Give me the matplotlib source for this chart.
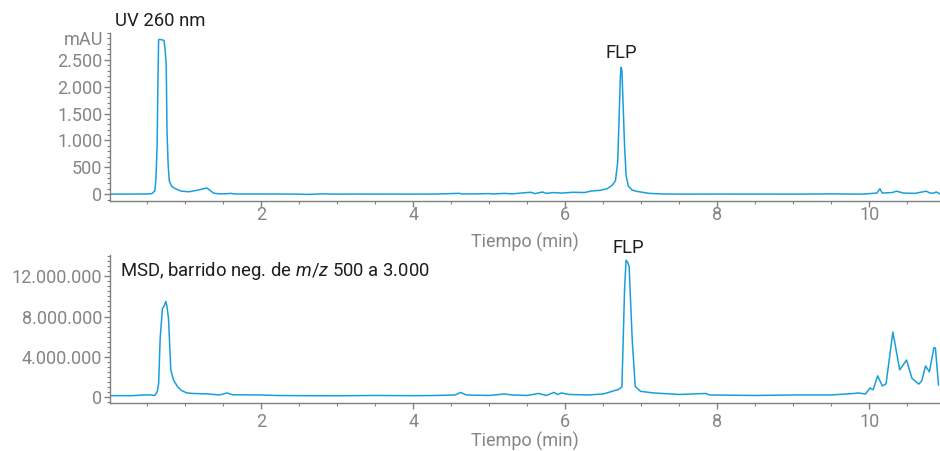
import matplotlib
matplotlib.use("Agg")
import matplotlib.pyplot as plt
from matplotlib.ticker import MultipleLocator, FuncFormatter

plt.rcParams['font.family'] = ['Roboto', 'DejaVu Sans']
plt.rcParams['mathtext.fontset'] = 'custom'
plt.rcParams['mathtext.rm'] = 'Roboto'
plt.rcParams['mathtext.it'] = 'Roboto:italic'

# UV 260 nm trace (time in min, absorbance in mAU)
uv_time = [0.0, 0.3, 0.5, 0.56, 0.6, 0.615, 0.63, 0.64, 0.65, 0.66, 0.7, 0.72, 0.735, 0.75, 0.76,
           0.775, 0.79, 0.82, 0.87, 0.95, 1.05, 1.15, 1.24, 1.28, 1.32, 1.37, 1.45, 1.55, 1.6, 1.65,
           2.0, 2.3, 2.5, 2.6, 2.8, 3.0, 3.2, 4.0, 4.3, 4.6, 4.65, 4.8, 5.0, 5.05, 5.2, 5.3, 5.45,
           5.55, 5.6, 5.7, 5.75, 5.85, 5.95, 6.1, 6.25, 6.35, 6.45, 6.55, 6.62, 6.66, 6.69, 6.71,
           6.725, 6.735, 6.745, 6.76, 6.78, 6.8, 6.83, 6.88, 6.95, 7.1, 7.3, 7.6, 8.0, 9.0, 9.5,
           9.9, 10.1, 10.14, 10.17, 10.3, 10.36, 10.45, 10.6, 10.75, 10.8, 10.85, 10.88, 10.93]
uv_mau = [0, 2, 3, 10, 60, 300, 900, 2000, 2870, 2880, 2870, 2860, 2700, 2400, 1200,
          550, 250, 150, 100, 55, 45, 70, 100, 115, 80, 20, 5, 8, 15, 3,
          3, 2, 0, -5, 5, 0, 2, 0, 2, 15, 3, 5, 10, 3, 15, 5, 25,
          35, 10, 40, 15, 30, 20, 35, 30, 60, 70, 100, 170, 250, 600, 1500,
          2200, 2360, 2300, 1700, 900, 350, 150, 75, 50, 15, 3, 0, 2, 0, 5,
          0, 20, 100, 20, 30, 55, 20, 15, 55, 20, 20, 40, 5]

# MSD negative scan trace (time in min, counts)
ms_time = [0.0, 0.3, 0.45, 0.55, 0.6, 0.63, 0.65, 0.67, 0.70, 0.72, 0.745, 0.76, 0.78, 0.81,
           0.845, 0.9, 0.95, 1.02, 1.1, 1.3, 1.45, 1.55, 1.62, 2.0, 2.2, 2.5, 3.0, 3.5, 4.0,
           4.3, 4.55, 4.62, 4.7, 5.0, 5.2, 5.3, 5.5, 5.65, 5.75, 5.85, 5.9, 5.95, 6.05, 6.3,
           6.5, 6.59, 6.7, 6.745, 6.78, 6.80, 6.82, 6.84, 6.88, 6.92, 6.99, 7.16, 7.5, 7.85,
           7.9, 8.5, 9.0, 9.5, 9.8, 9.85, 9.95, 10.01, 10.05, 10.11, 10.17, 10.22, 10.31,
           10.40, 10.49, 10.56, 10.65, 10.69, 10.74, 10.79, 10.85, 10.87, 10.91]
ms_counts = [0.13e6, 0.13e6, 0.2e6, 0.2e6, 0.15e6, 0.5e6, 1.3e6, 5.8e6, 8.8e6, 9.0e6, 9.5e6,
             9.0e6, 7.8e6, 2.7e6, 1.7e6, 1.0e6, 0.65e6, 0.4e6, 0.35e6, 0.3e6, 0.2e6, 0.4e6,
             0.22e6, 0.2e6, 0.15e6, 0.13e6, 0.12e6, 0.15e6, 0.13e6, 0.15e6, 0.2e6, 0.45e6,
             0.2e6, 0.15e6, 0.3e6, 0.2e6, 0.15e6, 0.35e6, 0.15e6, 0.45e6, 0.25e6, 0.4e6,
             0.25e6, 0.2e6, 0.3e6, 0.5e6, 0.75e6, 1.0e6, 10.7e6, 13.6e6, 13.4e6, 13.0e6,
             5.8e6, 1.05e6, 0.56e6, 0.4e6, 0.25e6, 0.35e6, 0.2e6, 0.15e6, 0.2e6, 0.2e6,
             0.35e6, 0.4e6, 0.3e6, 0.9e6, 0.72e6, 2.1e6, 1.1e6, 1.3e6, 6.45e6, 2.7e6, 3.67e6,
             1.87e6, 1.28e6, 1.6e6, 3.08e6, 2.5e6, 4.9e6, 4.85e6, 1.2e6]

uv_ticks = [0, 500, 1000, 1500, 2000, 2500]
ms_ticks = [0, 4000000, 8000000, 12000000]
x_ticks = [2, 4, 6, 8, 10]

LINE = '#1a9edb'
GRAY = '#808080'
TXT = '#858585'
DARK = '#1e1e1e'
TICK_FS = 13
TEXT_FS = 13.3

def es_fmt(v, pos=None):
    return f"{v:,.0f}".replace(',', '.')

fig = plt.figure(figsize=(9.4, 4.51), dpi=100)
ax1 = fig.add_axes([0.117, 0.554, 0.883, 0.373])
ax2 = fig.add_axes([0.117, 0.1064, 0.883, 0.329])

for ax, xpad, lpad in ((ax1, -0.5, 6.5), (ax2, 3, 0.8)):
    ax.set_xlim(0.01, 10.93)
    ax.set_xticks(x_ticks)
    ax.xaxis.set_minor_locator(MultipleLocator(0.5))
    for s in ('top', 'right'):
        ax.spines[s].set_visible(False)
    for s in ('left', 'bottom'):
        ax.spines[s].set_color(GRAY)
        ax.spines[s].set_linewidth(1.0)
    ax.tick_params(which='major', direction='out', length=4, width=1, color=GRAY,
                   labelcolor=TXT, labelsize=TICK_FS)
    ax.tick_params(which='minor', direction='out', length=2.5, width=0.8, color=GRAY)
    ax.tick_params(axis='x', which='major', pad=xpad)
    ax.tick_params(axis='y', which='major', pad=1.5)
    ax.set_xlabel('Tiempo (min)', color=TXT, fontsize=TICK_FS, labelpad=lpad)
    ax.yaxis.set_major_formatter(FuncFormatter(es_fmt))

ax1.plot(uv_time, uv_mau, color=LINE, lw=1.1)
ax1.set_ylim(-130, 3000)
ax1.set_yticks(uv_ticks)
ax1.yaxis.set_minor_locator(MultipleLocator(100))
ax1.text(-0.0085, 0.958, 'mAU', transform=ax1.transAxes, ha='right', va='center',
         color=TXT, fontsize=TICK_FS)
ax1.text(0.006, 1.072, 'UV 260 nm', transform=ax1.transAxes, ha='left', va='center',
         color=DARK, fontsize=TEXT_FS)
ax1.text(6.74, 2620, 'FLP', ha='center', va='center', color=DARK, fontsize=TEXT_FS)

ax2.plot(ms_time, ms_counts, color=LINE, lw=1.1)
ax2.set_ylim(-600000, 14150000)
ax2.set_yticks(ms_ticks)
ax2.yaxis.set_minor_locator(MultipleLocator(500000))
ax2.text(0.012, 0.887, r'MSD, barrido neg. de $\mathit{m/z}$ 500 a 3.000', transform=ax2.transAxes,
         ha='left', va='center', color=DARK, fontsize=TEXT_FS)
ax2.text(6.83, 14.8e6, 'FLP', ha='center', va='center', color=DARK, fontsize=TEXT_FS)

fig.savefig('out.png', dpi=100)
